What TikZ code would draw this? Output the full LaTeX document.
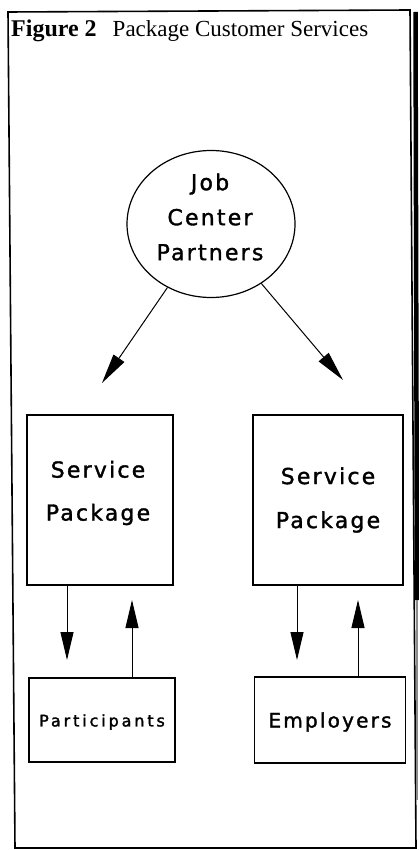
\documentclass[tikz,border=0pt]{standalone}
\usepackage{fontspec}
\setmainfont{Liberation Serif}
\newfontfamily\plotfont[LetterSpace=10,FakeBold=1.5]{DejaVu Sans}
\newfontfamily\plotwide[LetterSpace=18,FakeBold=1.8]{DejaVu Sans}
\newfontfamily\plotemp[LetterSpace=11,FakeBold=1.5]{DejaVu Sans}
\usetikzlibrary{arrows.meta,shapes.geometric}
\tikzset{
  plot/.style={align=center, inner sep=0pt},
  pbox/.style={draw, line width=1.6pt, rectangle, inner sep=0pt},
  arr/.style={line width=1pt, -{Triangle[length=30pt,width=13pt]}},
  varr/.style={line width=1pt, -{Triangle[length=28pt,width=13pt]}},
}
\begin{document}
\begin{tikzpicture}[x=1pt,y=-1pt]
\useasboundingbox (0,0) rectangle (418,850);
\fill[white] (0,0) rectangle (418,850);
% frame
\draw[line width=1.6pt] (8,12) -- (410,10) -- (416,848) -- (15,848) -- cycle;
\draw[line width=2.6pt] (15,848) -- (416,848);
\draw[line width=4.5pt] (415.5,12) -- (417,600);
\draw[line width=1.2pt, black!45] (417,600) -- (417,800);
% title
\node[anchor=base west, inner sep=0pt] (title) at (11,37)
  {{\fontsize{24}{27}\selectfont\bfseries Figure 2}\hspace{16pt}{\fontsize{23}{26}\selectfont Package Customer Services}};
% circle
\node[draw, ellipse, line width=1.2pt, minimum width=168pt, minimum height=147pt, inner sep=0pt] (jc) at (211,224) {};
\node[plot, font=\plotfont\fontsize{22}{35}\selectfont] (jct) at (210,217) {Job\\Center\\Partners};
% boxes
\node[pbox, minimum width=146pt, minimum height=170pt] (sp1) at (100,500) {};
\node[plot, font=\plotfont\fontsize{22}{43}\selectfont] (sp1t) at (98,493) {Service\\Package};
\node[pbox, minimum width=150pt, minimum height=170pt] (sp2) at (328,500) {};
\node[plot, font=\plotfont\fontsize{22}{44}\selectfont] (sp2t) at (328,500) {Service\\Package};
\node[pbox, minimum width=146pt, minimum height=84pt] (part) at (102,720) {};
\node[plot, font=\plotwide\fontsize{16}{18}\selectfont] (partt) at (102,722) {Participants};
\node[pbox, minimum width=151pt, minimum height=86pt] (emp) at (330,720) {};
\node[plot, font=\plotemp\fontsize{20}{22}\selectfont] (empt) at (330,722) {Employers};
% tips
\coordinate (tl) at (102,383);
\coordinate (tr) at (343,380);
\coordinate (d1) at (67,660);
\coordinate (u1) at (132,600);
\coordinate (d2) at (297,660);
\coordinate (u2) at (358,600);
% arrows
\draw[arr] (jc) -- (tl);
\draw[arr] (jc) -- (tr);
\draw[varr] (d1 |- sp1.south) -- (d1);
\draw[varr] (u1 |- part.north) -- (u1);
\draw[varr] (d2 |- sp2.south) -- (d2);
\draw[varr] (u2 |- emp.north) -- (u2);
\end{tikzpicture}
\end{document}
